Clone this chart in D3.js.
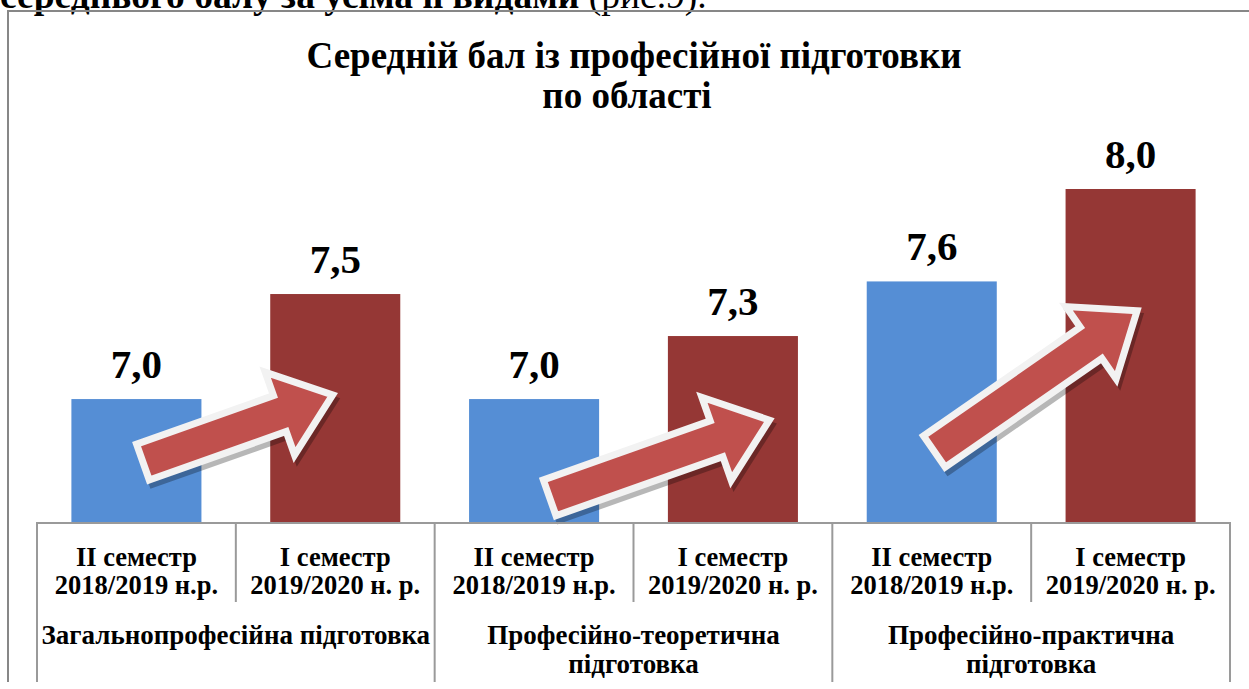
<!doctype html>
<html>
  <head>
    <meta charset="UTF-8" />
    <script src="https://d3js.org/d3.v7.min.js"></script>
  </head>
  <body style="margin: 0">
    <div id="chart"></div>
    <script>
      // Data
      const categories = [
        'Загальнопрофесійна підготовка',
        'Професійно-теоретична підготовка',
        'Професійно-практична підготовка',
      ]
      const seriesLabels = [
        ['II семестр', '2018/2019 н.р.'],
        ['I семестр', '2019/2020 н. р.'],
      ]
      const values2019 = [7.0, 7.0, 7.56]
      const values2020 = [7.5, 7.3, 8.0]

      // decorative arrows: tail inside first bar, tip inside second bar (band fraction, value units)
      const arrowTailPos = [0.55, 0.62, 0.52]
      const arrowTailVal = [6.7, 6.53, 6.75]
      const arrowTipPos = [0.48, 0.78, 0.55]
      const arrowTipVal = [7.02, 6.9, 7.42]

      const colors = ['#558ed5', '#953735']
      const FONT = '"Liberation Serif"'

      const W = 1249
      const H = 689
      const axisY = 523
      const bottomY = 682

      const svg = d3.select('#chart').append('svg').attr('width', W).attr('height', H)

      // helper: text node in the document serif face
      function addText(parent, size, weight) {
        return parent
          .append('text')
          .style('font-family', FONT)
          .attr('font-size', size)
          .attr('font-weight', weight)
          .attr('fill', '#000')
      }

      // cut-off line of document text above the chart
      const pt = addText(svg, 37.5, 'bold').attr('x', 0).attr('y', 8)
      pt.append('tspan').text('середнього балу за усіма її видами ')
      pt.append('tspan').attr('font-weight', 'normal').text('(рис.9).')

      // outer chart frame
      svg
        .append('path')
        .attr('d', `M8,${bottomY}V11H${W + 5}`)
        .attr('fill', 'none')
        .attr('stroke', '#878787')
        .attr('stroke-width', 2)

      // title
      const title = addText(svg, 37, 'bold').attr('text-anchor', 'middle')
      title.append('tspan').attr('x', 634).attr('y', 68).text('Середній бал із професійної підготовки')
      title.append('tspan').attr('x', 627).attr('y', 108).text('по області')

      // scales
      const bars = []
      categories.forEach((c, i) => {
        bars.push({ cat: i, s: 0, key: i * 2, value: values2019[i] })
        bars.push({ cat: i, s: 1, key: i * 2 + 1, value: values2020[i] })
      })

      const x = d3
        .scaleBand()
        .domain(bars.map((d) => d.key))
        .range([37, 1230])
        .paddingInner(0.346)
        .paddingOuter(0.173)

      const y = d3.scaleLinear().domain([6.41, 8.0]).range([axisY, 189])

      // bars
      svg
        .selectAll('.bar')
        .data(bars)
        .join('rect')
        .attr('class', 'bar')
        .attr('x', (d) => x(d.key))
        .attr('y', (d) => y(d.value))
        .attr('width', x.bandwidth())
        .attr('height', (d) => axisY - y(d.value))
        .attr('fill', (d) => colors[d.s])

      // value labels
      bars.forEach((d) => {
        addText(svg, 41, 'bold')
          .attr('text-anchor', 'middle')
          .attr('x', x(d.key) + x.bandwidth() / 2)
          .attr('y', y(d.value) - 21)
          .text(d.value.toFixed(1).replace('.', ','))
      })

      // arrows
      function arrowPath(t, p) {
        const dx = p[0] - t[0]
        const dy = p[1] - t[1]
        const len = Math.hypot(dx, dy)
        const ux = dx / len
        const uy = dy / len
        const nx = -uy
        const ny = ux
        const hw = 19
        const hh = 44
        const hl = 56
        const hx = p[0] - ux * hl
        const hy = p[1] - uy * hl
        const pts = [
          [t[0] + nx * hw, t[1] + ny * hw],
          [hx + nx * hw, hy + ny * hw],
          [hx + nx * hh, hy + ny * hh],
          p,
          [hx - nx * hh, hy - ny * hh],
          [hx - nx * hw, hy - ny * hw],
          [t[0] - nx * hw, t[1] - ny * hw],
        ]
        return 'M' + pts.map((q) => q.join(',')).join('L') + 'Z'
      }

      const arrows = categories.map((c, i) => {
        const t = [x(i * 2) + x.bandwidth() * arrowTailPos[i], y(arrowTailVal[i])]
        const p = [x(i * 2 + 1) + x.bandwidth() * arrowTipPos[i], y(arrowTipVal[i])]
        return arrowPath(t, p)
      })

      // soft shadow under each arrow
      svg
        .selectAll('.arrow-shadow')
        .data(arrows)
        .join('path')
        .attr('class', 'arrow-shadow')
        .attr('d', (d) => d)
        .attr('transform', 'translate(3,5)')
        .attr('fill', '#000')
        .attr('stroke', '#000')
        .attr('stroke-width', 6)
        .attr('stroke-linejoin', 'miter')
        .attr('opacity', 0.28)

      svg
        .selectAll('.arrow')
        .data(arrows)
        .join('path')
        .attr('class', 'arrow')
        .attr('d', (d) => d)
        .attr('fill', '#c0504d')
        .attr('stroke', '#f2f2f2')
        .attr('stroke-width', 7)
        .attr('stroke-linejoin', 'miter')

      // category axis table
      const axis = svg.append('g').attr('stroke', '#9a9a9a').attr('stroke-width', 2)
      axis.append('line').attr('x1', 36).attr('x2', 1231).attr('y1', axisY).attr('y2', axisY)
      const step = x.step()
      bars.forEach((d) => {
        const left = x(d.key) - (step - x.bandwidth()) / 2
        const full = d.s === 0
        axis
          .append('line')
          .attr('x1', left)
          .attr('x2', left)
          .attr('y1', axisY)
          .attr('y2', full ? bottomY : 602)
      })
      axis.append('line').attr('x1', 1230).attr('x2', 1230).attr('y1', axisY).attr('y2', bottomY)

      // series tick labels
      bars.forEach((d) => {
        const t = addText(svg, 26.5, 'bold').attr('text-anchor', 'middle')
        seriesLabels[d.s].forEach((line, j) => {
          t.append('tspan')
            .attr('x', x(d.key) + x.bandwidth() / 2)
            .attr('y', 566 + j * 28)
            .text(line)
        })
      })

      // category labels, wrapped to the group width
      categories.forEach((c, i) => {
        const cx = (x(i * 2) + x(i * 2 + 1) + x.bandwidth()) / 2
        const t = addText(svg, 27, 'bold').attr('text-anchor', 'middle')
        const words = c.split(' ')
        let line = []
        let tspan = t.append('tspan').attr('x', cx).attr('y', 644)
        let n = 0
        words.forEach((w) => {
          line.push(w)
          tspan.text(line.join(' '))
          if (tspan.node().getComputedTextLength() > step * 2 - 4 && line.length > 1) {
            line.pop()
            tspan.text(line.join(' '))
            line = [w]
            n++
            tspan = t.append('tspan').attr('x', cx).attr('y', 644 + n * 29).text(w)
          }
        })
      })
    </script>
  </body>
</html>
